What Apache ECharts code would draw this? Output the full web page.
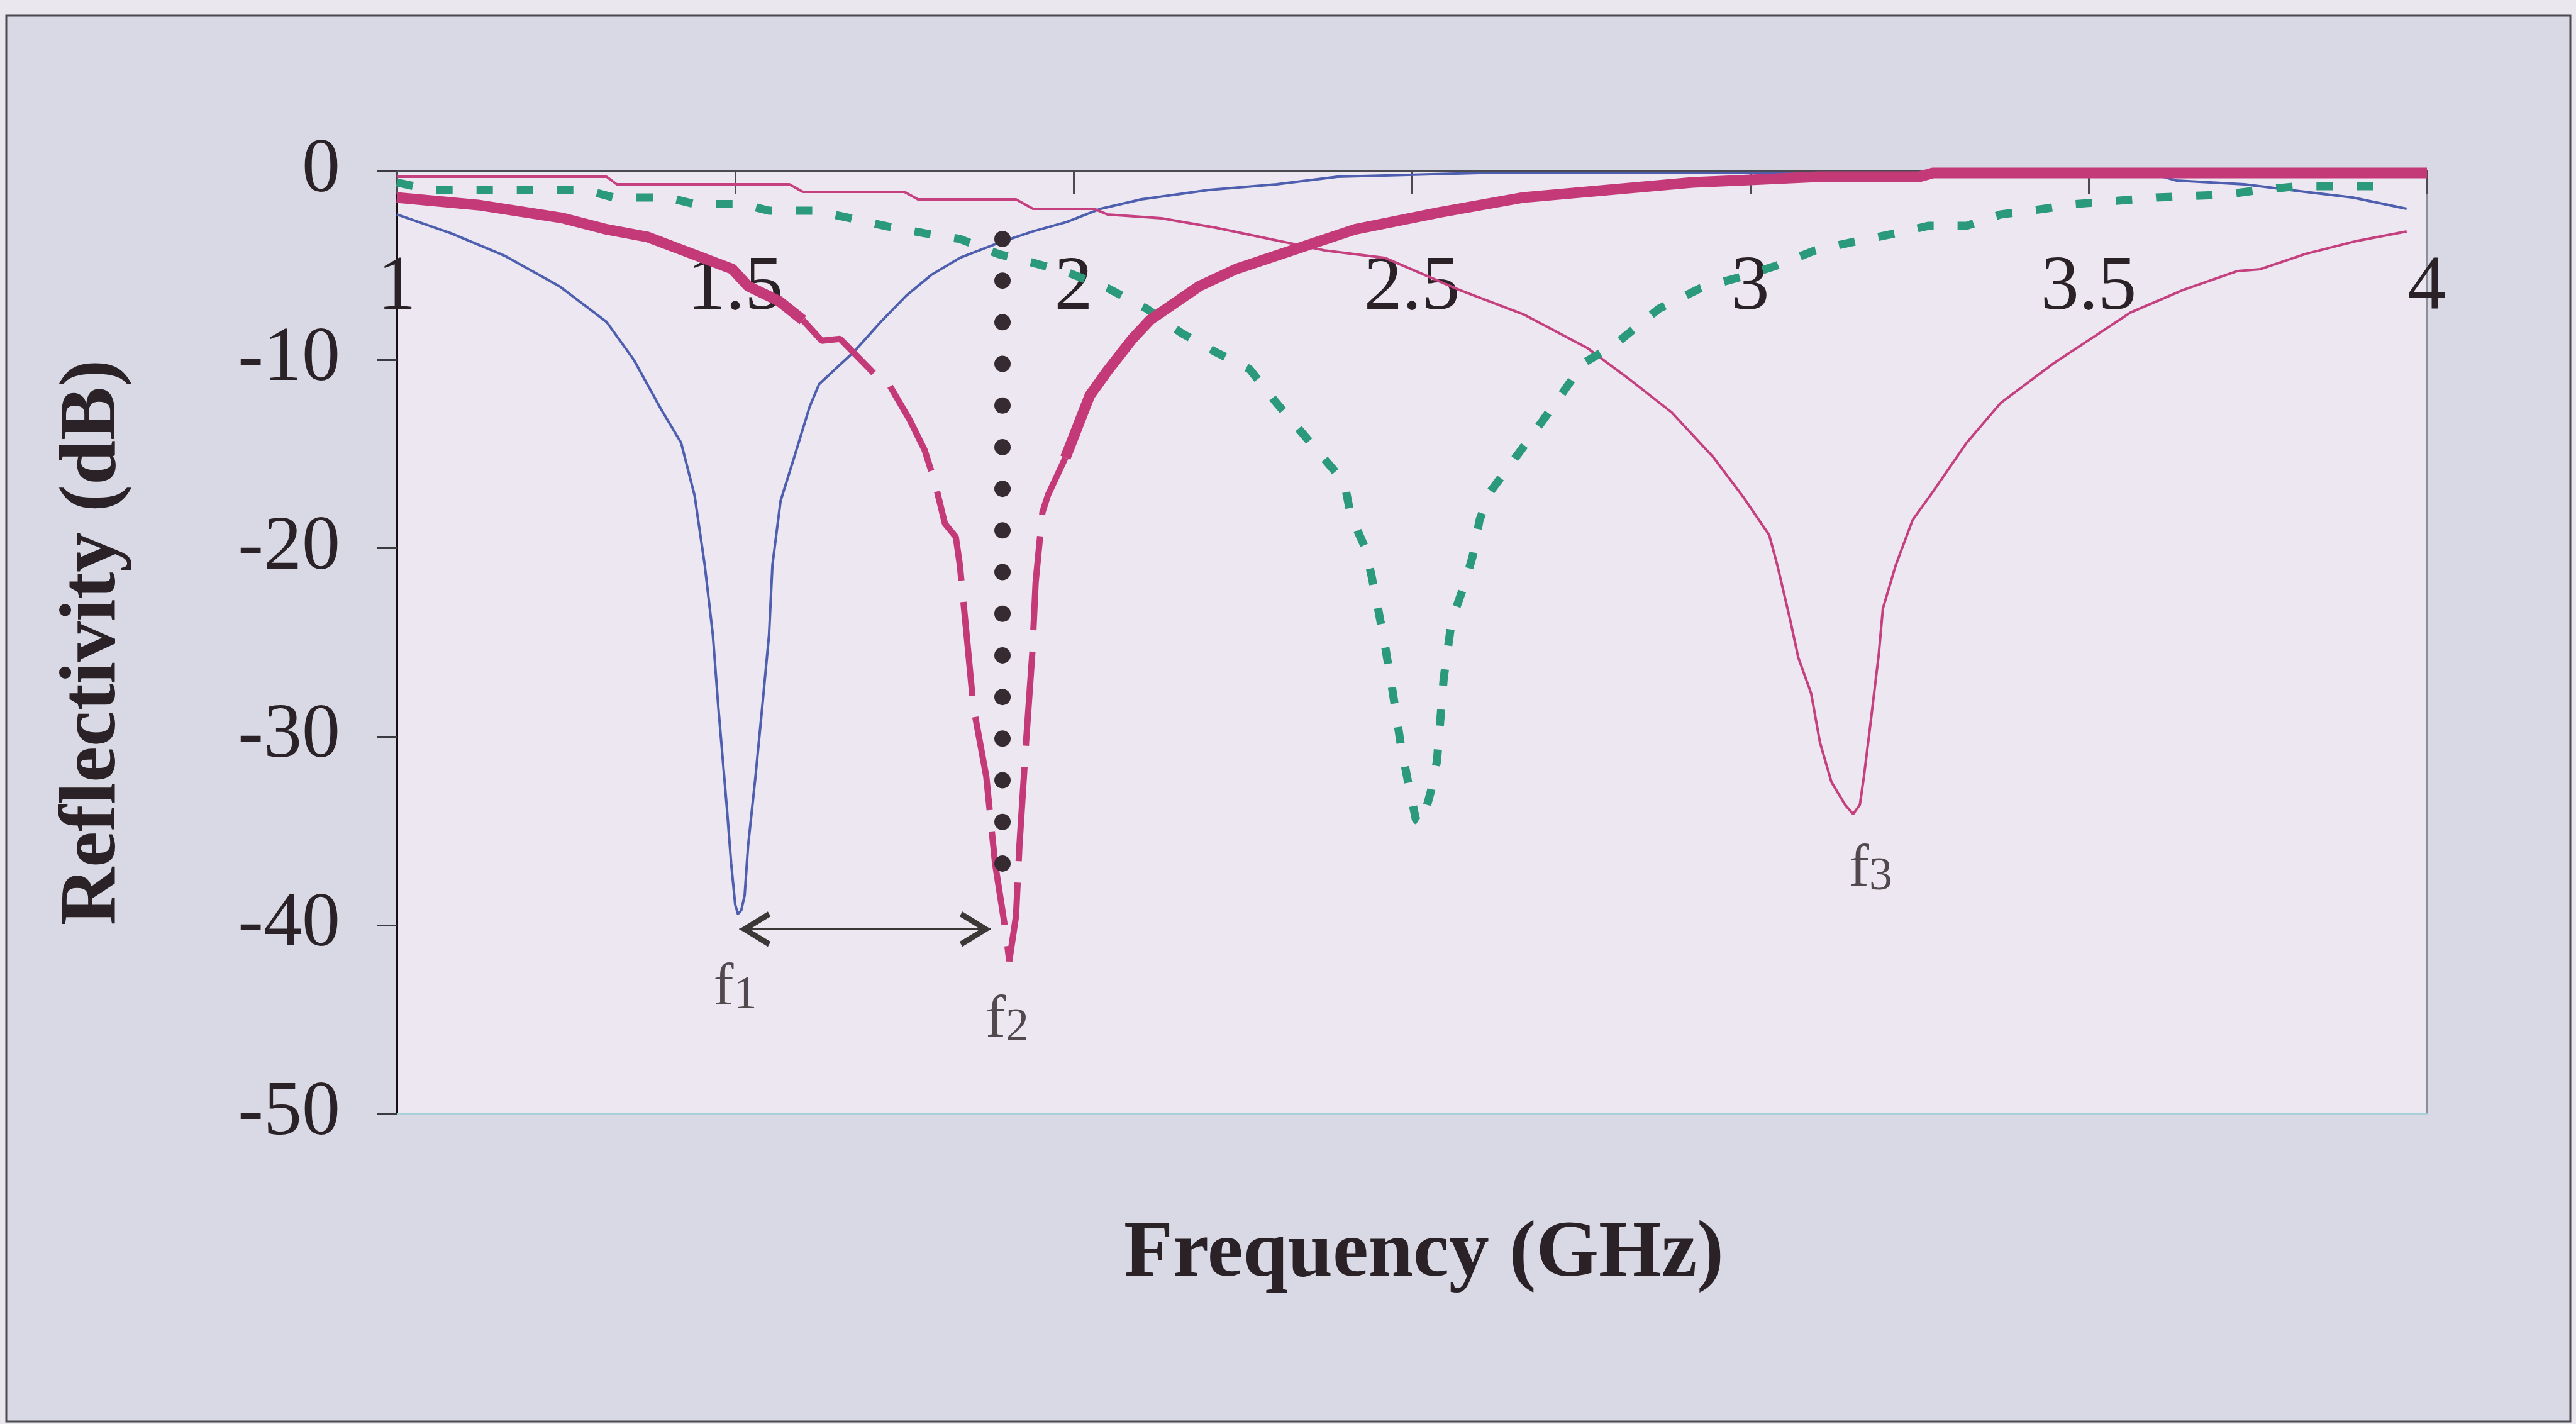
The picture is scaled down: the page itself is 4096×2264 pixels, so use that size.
<!DOCTYPE html>
<html>
<head>
<meta charset="utf-8">
<script src="https://cdn.jsdelivr.net/npm/echarts@6/dist/echarts.min.js"></script>
<style>
html,body{margin:0;padding:0;background:#ebe7ee;}
#c{width:4096px;height:2264px;}
</style>
</head>
<body>
<div id="c"></div>
<script>
// ---- data (frequency GHz, reflectivity dB) ----
const xTicks = [1, 1.5, 2, 2.5, 3, 3.5, 4];
const yTicks = [0, -10, -20, -30, -40, -50];

const blueF1 = [[1.0,-2.3],[1.08,-3.3],[1.16,-4.5],[1.24,-6.1],[1.31,-8.0],[1.35,-10.0],[1.39,-12.6],[1.42,-14.4],[1.44,-17.2],[1.455,-20.9],[1.467,-24.6],[1.475,-28.4],[1.488,-33.9],[1.494,-36.7],[1.500,-38.9],[1.504,-39.4],[1.509,-39.2],[1.514,-38.4],[1.519,-35.8],[1.53,-32.1],[1.54,-28.4],[1.55,-24.6],[1.555,-20.9],[1.567,-17.5],[1.587,-15.2],[1.61,-12.5],[1.624,-11.3],[1.675,-9.6],[1.715,-8.0],[1.753,-6.6],[1.79,-5.5],[1.832,-4.6],[1.89,-3.8],[1.94,-3.2],[1.99,-2.7],[2.04,-2.0],[2.10,-1.5],[2.2,-1.0],[2.3,-0.7],[2.39,-0.3],[2.6,-0.1],[3.0,-0.1],[3.4,-0.1],[3.6,-0.2],[3.63,-0.5],[3.73,-0.7],[3.82,-1.1],[3.89,-1.4],[3.97,-2.0]];

const thinMagentaF3 = [[1.0,-0.3],[1.31,-0.3],[1.325,-0.7],[1.58,-0.7],[1.60,-1.1],[1.75,-1.1],[1.77,-1.5],[1.915,-1.5],[1.94,-2.0],[2.03,-2.0],[2.05,-2.3],[2.13,-2.5],[2.21,-3.0],[2.29,-3.6],[2.37,-4.2],[2.46,-4.6],[2.57,-6.3],[2.665,-7.6],[2.76,-9.4],[2.82,-11.0],[2.884,-12.8],[2.946,-15.2],[2.99,-17.3],[3.028,-19.3],[3.04,-20.9],[3.059,-23.8],[3.071,-25.8],[3.09,-27.7],[3.103,-30.3],[3.12,-32.4],[3.14,-33.6],[3.152,-34.1],[3.162,-33.6],[3.168,-32.1],[3.177,-29.5],[3.19,-25.6],[3.196,-23.2],[3.215,-20.9],[3.24,-18.5],[3.27,-17.0],[3.32,-14.4],[3.37,-12.3],[3.448,-10.2],[3.562,-7.5],[3.64,-6.3],[3.72,-5.3],[3.754,-5.2],[3.82,-4.4],[3.897,-3.7],[3.97,-3.2]];

const thickMagentaLeft = [[1.0,-1.4],[1.12,-1.8],[1.246,-2.5],[1.311,-3.1],[1.371,-3.5],[1.415,-4.1],[1.496,-5.2],[1.519,-6.1],[1.565,-6.9],[1.60,-7.9]];
const thickMagentaDip = [[1.60,-7.9],[1.628,-9.0],[1.655,-8.9],[1.707,-10.8],[1.727,-11.3],[1.758,-13.2],[1.78,-14.8],[1.795,-16.5],[1.81,-18.7],[1.826,-19.4],[1.832,-20.9],[1.842,-24.6],[1.852,-28.4],[1.871,-32.1],[1.884,-36.7],[1.90,-40.4],[1.905,-41.9],[1.915,-39.5],[1.92,-35.8],[1.93,-30.2],[1.939,-25.6],[1.944,-21.8],[1.954,-18.1],[1.962,-17.2],[1.988,-15.2]];
const thickMagentaRight = [[1.988,-15.2],[2.024,-11.9],[2.05,-10.6],[2.087,-8.9],[2.113,-7.9],[2.186,-6.1],[2.24,-5.2],[2.29,-4.6],[2.415,-3.1],[2.54,-2.2],[2.665,-1.4],[2.79,-1.0],[2.915,-0.6],[2.98,-0.5],[3.1,-0.3],[3.25,-0.3],[3.27,-0.1],[4.0,-0.1]];

const greenDotted = [[1.0,-0.6],[1.05,-1.0],[1.28,-1.0],[1.32,-1.4],[1.40,-1.4],[1.44,-1.75],[1.51,-1.75],[1.55,-2.1],[1.62,-2.1],[1.67,-2.5],[1.727,-2.95],[1.78,-3.3],[1.832,-3.6],[1.889,-4.4],[1.944,-4.9],[1.993,-5.4],[2.05,-6.2],[2.108,-7.3],[2.16,-8.6],[2.21,-9.6],[2.26,-10.5],[2.30,-12.3],[2.35,-14.4],[2.40,-16.5],[2.41,-18.3],[2.43,-19.9],[2.44,-21.4],[2.45,-23.2],[2.46,-25.1],[2.472,-27.7],[2.484,-30.5],[2.496,-32.7],[2.506,-34.4],[2.515,-34.6],[2.528,-32.9],[2.537,-31.3],[2.547,-26.9],[2.559,-23.8],[2.578,-21.9],[2.59,-20.4],[2.60,-18.5],[2.616,-17.0],[2.653,-15.2],[2.69,-13.4],[2.722,-11.8],[2.753,-10.2],[2.80,-9.2],[2.865,-7.3],[2.927,-6.2],[2.997,-5.5],[3.04,-5.0],[3.096,-4.2],[3.16,-3.7],[3.215,-3.3],[3.264,-2.9],[3.32,-2.9],[3.37,-2.3],[3.434,-2.0],[3.48,-1.75],[3.534,-1.6],[3.6,-1.4],[3.70,-1.25],[3.754,-1.0],[3.81,-0.8],[3.93,-0.8]];

const blackMarker = [[1.895,-3.6],[1.895,-38.8]];
const arrowEnds = [[1.506,-40.2],[1.878,-40.2]];

const fLabelX = [1.50, 1.902, 3.178];
const fLabelY = [-43.3, -45.0, -37.0];
const fLabelSub = ['1', '2', '3'];

// ---- chart ----
const SERIF = '"Liberation Serif","Times New Roman",serif';
const TXT = '#2a2226';
const chart = echarts.init(document.getElementById('c'), null, {renderer: 'canvas'});

const chevron = 'path://M50,0 L100,80 L86,88 L50,30 L14,88 L0,80 Z';

const option = {
  animation: false,
  backgroundColor: '#ebe7ee',
  graphic: [{
    type: 'rect', z: -10, silent: true,
    shape: {x: 10, y: 25, width: 4077, height: 2235},
    style: {fill: '#d8d9e4', stroke: '#4a4a50', lineWidth: 3}
  }],
  grid: {
    left: 631, top: 272, right: 4096 - 3859, bottom: 2264 - 1771,
    show: true, backgroundColor: '#ede7f1', borderColor: '#8d8f98', borderWidth: 2
  },
  xAxis: [{
    type: 'value', min: 1, max: 4, interval: 0.5, position: 'top',
    axisLine: {show: true, onZero: false, lineStyle: {color: '#4a4a50', width: 4}},
    axisTick: {show: true, inside: true, length: 37, lineStyle: {color: '#4a4a50', width: 3}},
    axisLabel: {inside: true, margin: 126, fontSize: 122, fontFamily: SERIF, color: TXT,
      formatter: v => xTicks.includes(v) ? String(v) : ''},
    splitLine: {show: false}
  }, {
    type: 'value', min: 1, max: 4, position: 'bottom',
    axisLine: {show: true, onZero: false, lineStyle: {color: '#a9cfd8', width: 3}},
    axisTick: {show: false}, axisLabel: {show: false}, splitLine: {show: false},
    name: 'Frequency (GHz)', nameLocation: 'middle', nameGap: 160,
    nameTextStyle: {fontSize: 128, fontWeight: 'bold', fontFamily: SERIF, color: TXT, padding: [0, 0, 0, 38]}
  }],
  yAxis: {
    type: 'value', min: -50, max: 0, interval: 10,
    axisLine: {show: true, onZero: false, lineStyle: {color: '#151015', width: 4}},
    axisTick: {show: true, inside: false, length: 31, lineStyle: {color: '#3a3a40', width: 3}},
    axisLabel: {margin: 90, fontSize: 122, fontFamily: SERIF, color: TXT,
      formatter: v => yTicks.includes(v) ? String(v) : ''},
    splitLine: {show: false},
    name: 'Reflectivity (dB)', nameLocation: 'middle', nameGap: 418, nameRotate: 90,
    nameTextStyle: {fontSize: 128, fontWeight: 'bold', fontFamily: SERIF, color: TXT}
  },
  series: [
    {type: 'line', name: 'f1', data: blueF1, showSymbol: false, symbol: 'none',
      lineStyle: {color: '#4d5fae', width: 4}},
    {type: 'line', name: 'f3', data: thinMagentaF3, showSymbol: false, symbol: 'none',
      lineStyle: {color: '#c5407f', width: 4}},
    {type: 'line', name: 'green', data: greenDotted, showSymbol: false, symbol: 'none',
      lineStyle: {color: '#2a9a7a', width: 13, type: [26, 38]}},
    {type: 'line', name: 'f2a', data: thickMagentaLeft, showSymbol: false, symbol: 'none',
      lineStyle: {color: '#c43a78', width: 17}},
    {type: 'line', name: 'f2b', data: thickMagentaDip, showSymbol: false, symbol: 'none',
      lineStyle: {color: '#c43a78', width: 10, type: [150, 34]}},
    {type: 'line', name: 'f2c', data: thickMagentaRight, showSymbol: false, symbol: 'none',
      lineStyle: {color: '#c43a78', width: 17}},
    {type: 'line', name: 'marker', data: blackMarker, showSymbol: false, symbol: 'none',
      lineStyle: {color: '#352b30', width: 26, type: [0, 66.2], cap: 'round'},
      markLine: {
        silent: true, animation: false,
        symbol: [chevron, chevron], symbolSize: [56, 50], symbolOffset: [[0, 25], [0, 25]],
        label: {show: false},
        lineStyle: {color: '#3c3838', width: 4, type: 'solid'},
        emphasis: {disabled: true},
        data: [[{coord: arrowEnds[0]}, {coord: arrowEnds[1]}]]
      }},
    {type: 'scatter', name: 'labels', symbolSize: 0, silent: true,
      data: fLabelX.map((x, i) => [x, fLabelY[i], fLabelSub[i]]),
      label: {show: true, position: 'inside',
        formatter: p => '{a|f}{b|' + p.data[2] + '}',
        rich: {
          a: {fontSize: 96, fontFamily: SERIF, color: TXT, lineHeight: 100, verticalAlign: 'bottom'},
          b: {fontSize: 74, fontFamily: SERIF, color: TXT, lineHeight: 100, verticalAlign: 'bottom', padding: [30, 0, 0, 0]}
        }}}
  ]
};
chart.setOption(option);
</script>
</body>
</html>
